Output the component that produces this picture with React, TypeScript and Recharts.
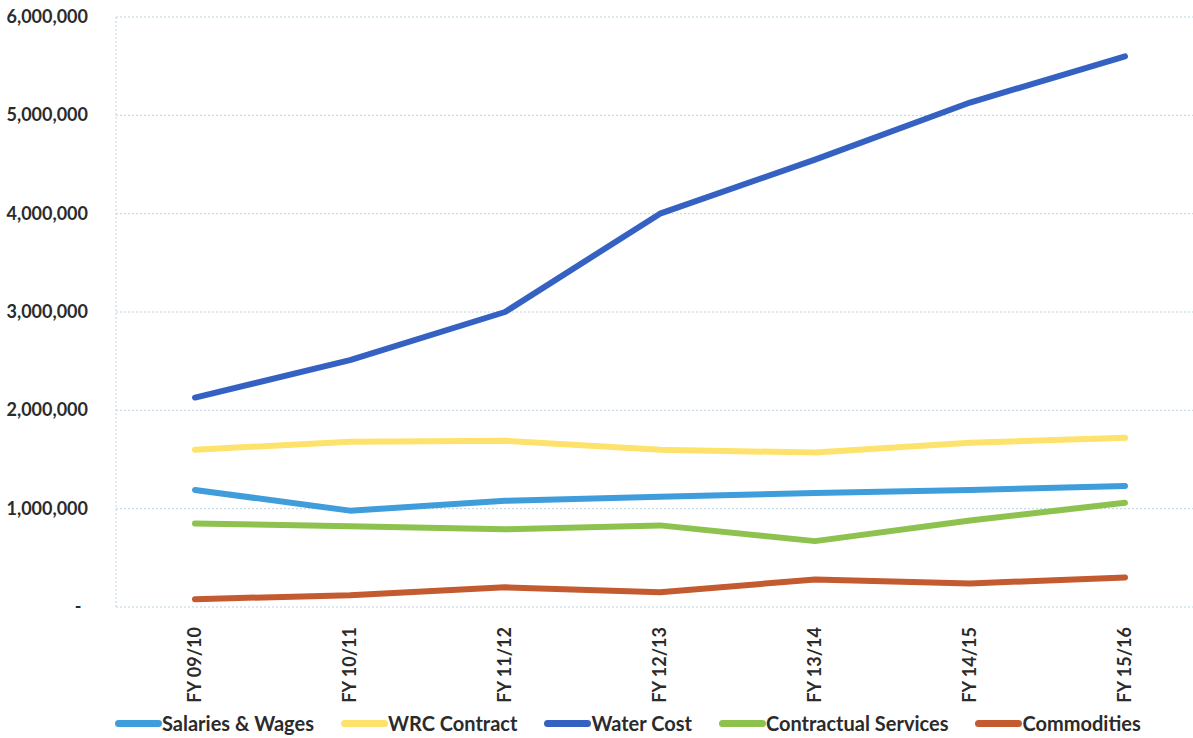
import React from 'react';
import { LineChart, Line, XAxis, YAxis, CartesianGrid, Legend } from 'recharts';

const years = ['FY 09/10', 'FY 10/11', 'FY 11/12', 'FY 12/13', 'FY 13/14', 'FY 14/15', 'FY 15/16'];

const salariesWages = [1190000, 980000, 1080000, 1120000, 1160000, 1190000, 1230000];
const wrcContract = [1600000, 1680000, 1690000, 1600000, 1570000, 1670000, 1720000];
const waterCost = [2130000, 2510000, 3000000, 4000000, 4550000, 5130000, 5600000];
const contractualServices = [850000, 820000, 790000, 830000, 670000, 880000, 1060000];
const commodities = [80000, 120000, 200000, 150000, 280000, 240000, 300000];

const yTicks = [0, 1000000, 2000000, 3000000, 4000000, 5000000, 6000000];

const series = [
  { key: 'salaries', name: 'Salaries & Wages', color: '#3f9ddb', values: salariesWages },
  { key: 'wrc', name: 'WRC Contract', color: '#fde36c', values: wrcContract },
  { key: 'water', name: 'Water Cost', color: '#3562c2', values: waterCost },
  { key: 'contractual', name: 'Contractual Services', color: '#8dc24e', values: contractualServices },
  { key: 'commodities', name: 'Commodities', color: '#c35a30', values: commodities },
];

const data = years.map((year, i) => {
  const row: Record<string, any> = { year };
  series.forEach(s => { row[s.key] = s.values[i]; });
  return row;
});

const FONT = 'Lato, "Open Sans", sans-serif';
const TEXT = '#2b2b2b';

const YTick = ({ x, y, payload }: any) => {
  if (payload.value === 0) {
    return <text x={78} y={y} dy={6} textAnchor="middle" fontSize={18} fontFamily={FONT} fontWeight={700} fill={TEXT}>-</text>;
  }
  return (
    <text x={x} y={y} dy={6} textAnchor="end" fontSize={18} fontFamily={FONT} fontWeight={700} fill={TEXT}>
      {payload.value.toLocaleString('en-US')}
    </text>
  );
};

const XTick = ({ x, y, payload }: any) => (
  <text
    x={x + 6}
    y={y + 12}
    textAnchor="end"
    transform={`rotate(-90, ${x + 6}, ${y + 12})`}
    fontSize={18}
    fontFamily={FONT}
    fontWeight={700}
    fill={TEXT}
  >
    {payload.value}
  </text>
);

const LegendContent = () => (
  <div style={{ display: 'flex', alignItems: 'center', height: 30, paddingLeft: 115, fontFamily: FONT, fontSize: 20, fontWeight: 700, color: TEXT }}>
    {series.map(s => (
      <div key={s.key} style={{ display: 'flex', alignItems: 'center', marginRight: 27 }}>
        <span style={{ display: 'inline-block', width: 47, height: 7, borderRadius: 4, background: s.color }} />
        <span style={{ whiteSpace: 'nowrap' }}>{s.name}</span>
      </div>
    ))}
  </div>
);

export default function App() {
  return (
    <div style={{ position: 'absolute', left: 0, top: 0, background: '#fff' }}>
      <LineChart width={1193} height={738} data={data} margin={{ top: 17, right: 0, left: 0, bottom: 0 }}>
        <CartesianGrid vertical={false} stroke="#bcd3e0" strokeDasharray="2 2" />
        <XAxis
          dataKey="year"
          height={101}
          padding={{ left: 79, right: 68 }}
          axisLine={false}
          tickLine={false}
          interval={0}
          tick={<XTick />}
        />
        <YAxis
          width={116}
          domain={[0, 6000000]}
          ticks={yTicks}
          axisLine={{ stroke: '#bcd3e0', strokeDasharray: '2 2' }}
          tickLine={false}
          tickMargin={22}
          tick={<YTick />}
        />
        <Legend verticalAlign="bottom" content={<LegendContent />} />
        {series.map(s => (
          <Line
            key={s.key}
            type="linear"
            dataKey={s.key}
            name={s.name}
            stroke={s.color}
            strokeWidth={6}
            strokeLinecap="round"
            strokeLinejoin="round"
            dot={false}
            isAnimationActive={false}
          />
        ))}
      </LineChart>
    </div>
  );
}
